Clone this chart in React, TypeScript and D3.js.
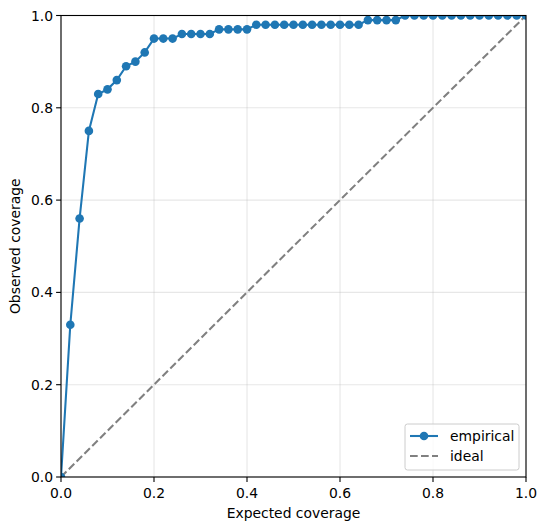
import * as d3 from "d3";
import React from "react";

const expected: number[] = [
  0, 0.02, 0.04, 0.06, 0.08, 0.1, 0.12, 0.14, 0.16, 0.18, 0.2, 0.22, 0.24,
  0.26, 0.28, 0.3, 0.32, 0.34, 0.36, 0.38, 0.4, 0.42, 0.44, 0.46, 0.48, 0.5,
  0.52, 0.54, 0.56, 0.58, 0.6, 0.62, 0.64, 0.66, 0.68, 0.7, 0.72, 0.74, 0.76,
  0.78, 0.8, 0.82, 0.84, 0.86, 0.88, 0.9, 0.92, 0.94, 0.96, 0.98, 1.0,
];
const observed: number[] = [
  0, 0.33, 0.56, 0.75, 0.83, 0.84, 0.86, 0.89, 0.9, 0.92, 0.95, 0.95, 0.95,
  0.96, 0.96, 0.96, 0.96, 0.97, 0.97, 0.97, 0.97, 0.98, 0.98, 0.98, 0.98, 0.98,
  0.98, 0.98, 0.98, 0.98, 0.98, 0.98, 0.98, 0.99, 0.99, 0.99, 0.99, 1.0, 1.0,
  1.0, 1.0, 1.0, 1.0, 1.0, 1.0, 1.0, 1.0, 1.0, 1.0, 1.0, 1.0,
];
const ticks: number[] = [0, 0.2, 0.4, 0.6, 0.8, 1.0];

const W = 547;
const H = 530;
const left = 61;
const right = 526;
const top = 15.5;
const bottom = 477;
const blue = "#1f77b4";
const font = "DejaVu Sans, sans-serif";
const fs = 13.9;
const lw = 2.08;
const dash = "7.7,3.3";

export default function App() {
  const x = d3.scaleLinear().domain([0, 1]).range([left, right]);
  const y = d3.scaleLinear().domain([0, 1]).range([bottom, top]);
  const pts = expected.map((e, i) => [e, observed[i]] as [number, number]);
  const line = d3
    .line<[number, number]>()
    .x((d) => x(d[0]))
    .y((d) => y(d[1]));

  return (
    <svg
      width={W}
      height={H}
      style={{ position: "absolute", left: 0, top: 0, background: "#fff" }}
      fontFamily={font}
    >
      <defs>
        <clipPath id="plot">
          <rect x={left} y={top} width={right - left} height={bottom - top} />
        </clipPath>
      </defs>
      {/* grid */}
      {ticks.map((t) => (
        <g key={"g" + t} stroke="#b0b0b0" strokeOpacity={0.3} strokeWidth={1.1}>
          <line x1={x(t)} x2={x(t)} y1={top} y2={bottom} />
          <line x1={left} x2={right} y1={y(t)} y2={y(t)} />
        </g>
      ))}
      <g clipPath="url(#plot)">
        <path
          d={line([[0, 0], [1, 1]]) || ""}
          stroke="gray"
          strokeWidth={lw}
          strokeDasharray={dash}
          fill="none"
        />
        <path d={line(pts) || ""} stroke={blue} strokeWidth={lw} fill="none" />
        {pts.map((p, i) => (
          <circle key={i} cx={x(p[0])} cy={y(p[1])} r={4.3} fill={blue} />
        ))}
      </g>
      <rect
        x={left}
        y={top}
        width={right - left}
        height={bottom - top}
        fill="none"
        stroke="#000"
        strokeWidth={1.1}
      />
      {/* x ticks */}
      {ticks.map((t) => (
        <g key={"x" + t}>
          <line x1={x(t)} x2={x(t)} y1={bottom} y2={bottom + 4.9} stroke="#000" strokeWidth={1.1} />
          <text x={x(t)} y={bottom + 21} fontSize={fs} textAnchor="middle" fill="#000">
            {t.toFixed(1)}
          </text>
        </g>
      ))}
      {/* y ticks */}
      {ticks.map((t) => (
        <g key={"y" + t}>
          <line x1={left - 4.9} x2={left} y1={y(t)} y2={y(t)} stroke="#000" strokeWidth={1.1} />
          <text
            x={left - 8}
            y={y(t) + 5}
            fontSize={fs}
            textAnchor="end"
            fill="#000"
          >
            {t.toFixed(1)}
          </text>
        </g>
      ))}
      <text x={(left + right) / 2} y={518} fontSize={fs} textAnchor="middle" fill="#000">
        Expected coverage
      </text>
      <text
        transform={`translate(20,${(top + bottom) / 2}) rotate(-90)`}
        fontSize={fs}
        textAnchor="middle"
        fill="#000"
      >
        Observed coverage
      </text>
      {/* legend */}
      <g>
        <rect
          x={405}
          y={424}
          width={114}
          height={46}
          rx={2.5}
          fill="#fff"
          fillOpacity={0.8}
          stroke="#cccccc"
        />
        <line x1={410} x2={438} y1={436} y2={436} stroke={blue} strokeWidth={lw} />
        <circle cx={424} cy={436} r={4.3} fill={blue} />
        <text x={450} y={441} fontSize={fs} fill="#000">
          empirical
        </text>
        <line
          x1={410}
          x2={438}
          y1={456}
          y2={456}
          stroke="gray"
          strokeWidth={lw}
          strokeDasharray={dash}
        />
        <text x={450} y={461} fontSize={fs} fill="#000">
          ideal
        </text>
      </g>
    </svg>
  );
}
